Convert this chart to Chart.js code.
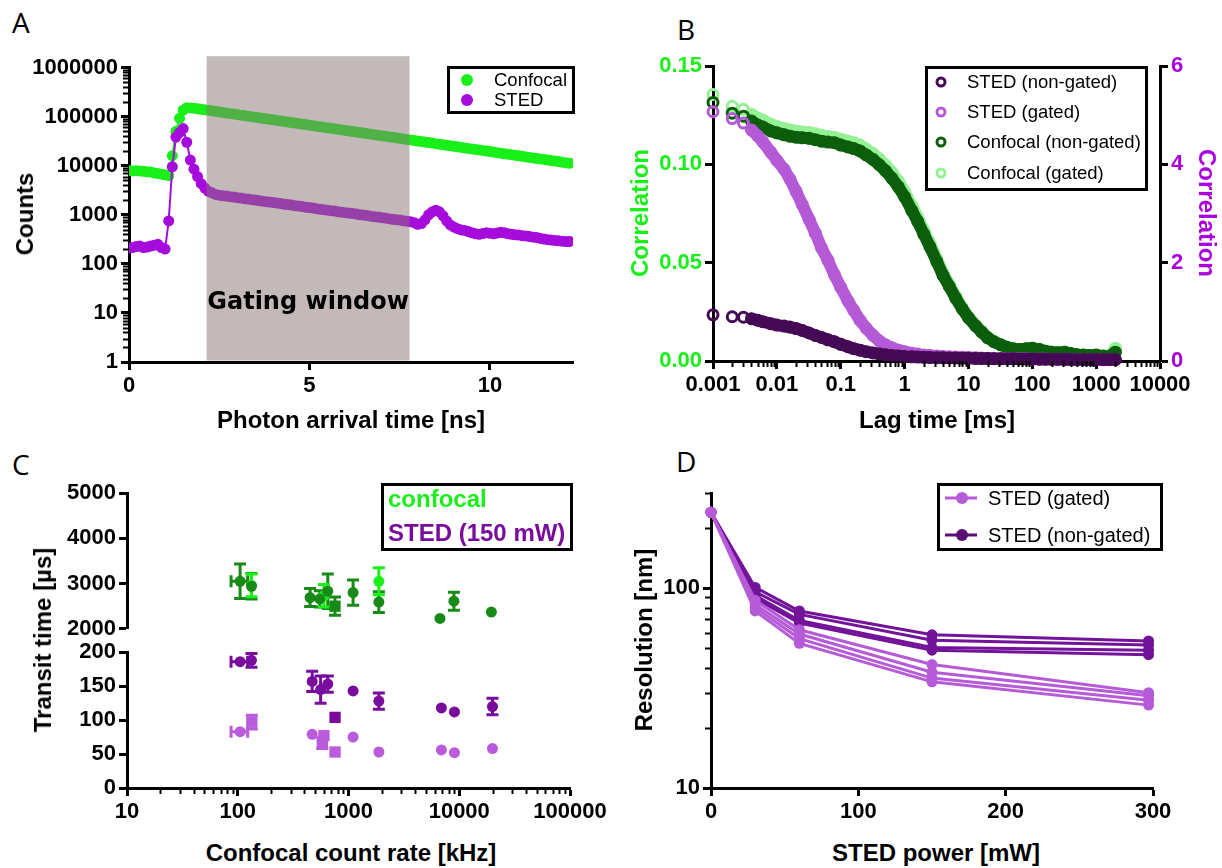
<!DOCTYPE html>
<html>
<head>
<meta charset="utf-8">
<title>Gated STED-FCS</title>
<script src="https://cdn.jsdelivr.net/npm/chart.js@4.4.1/dist/chart.umd.min.js"></script>
<style>
  body { margin:0; width:1222px; height:868px; background:#fff; position:relative; overflow:hidden;
         font-family:"Liberation Sans", Arial, sans-serif; color:#000; }
  canvas { position:absolute; }
  .letter { position:absolute; font-family:"Open Sans", sans-serif; font-size:28px; line-height:28px; }
  .atitle { position:absolute; font-weight:bold; font-size:24px; line-height:24px; white-space:nowrap;
            transform:translate(-50%,-50%); }
  .rot-l { transform:translate(-50%,-50%) rotate(-90deg); }
  .rot-r { transform:translate(-50%,-50%) rotate(90deg); }
  .lbox { position:absolute; border:3px solid #000; box-sizing:border-box; }
  .ltxt { position:absolute; white-space:nowrap; line-height:1; transform:translateY(-50%); }
  .dot { position:absolute; border-radius:50%; transform:translate(-50%,-50%); box-sizing:border-box; }
  .lline { position:absolute; height:3px; transform:translateY(-50%); }
</style>
</head>
<body>

<div class="letter" style="left:12px;top:8px">A</div>
<div class="letter" style="left:677px;top:15px">B</div>
<div class="letter" style="left:12px;top:450px">C</div>
<div class="letter" style="left:676px;top:447px">D</div>

<canvas id="chartA" width="600" height="372" style="left:0;top:40px"></canvas>
<canvas id="chartB" width="622" height="372" style="left:600px;top:40px"></canvas>
<canvas id="chartCTop" width="620" height="175" style="left:0;top:470px"></canvas>
<canvas id="chartCBottom" width="620" height="194" style="left:0;top:636px"></canvas>
<canvas id="chartD" width="622" height="360" style="left:600px;top:470px"></canvas>

<!-- axis titles -->
<div class="atitle rot-l" style="left:25px;top:214px">Counts</div>
<div class="atitle" style="left:351px;top:420px">Photon arrival time [ns]</div>
<div class="atitle rot-l" style="left:640px;top:213px;color:#19ef19">Correlation</div>
<div class="atitle rot-r" style="left:1207px;top:213px;color:#aa00dd">Correlation</div>
<div class="atitle" style="left:937px;top:420px">Lag time [ms]</div>
<div class="atitle rot-l" style="left:43px;top:640px">Transit time [µs]</div>
<div class="atitle" style="left:351px;top:853px">Confocal count rate [kHz]</div>
<div class="atitle rot-l" style="left:644px;top:640px">Resolution [nm]</div>
<div class="atitle" style="left:936px;top:853px">STED power [mW]</div>

<!-- legend A -->
<div class="lbox" style="left:447px;top:66px;width:128px;height:48px"></div>
<div class="dot" style="left:467px;top:80px;width:12px;height:12px;background:#19ef19"></div>
<div class="ltxt" style="left:494px;top:80px;font-size:18.5px">Confocal</div>
<div class="dot" style="left:467px;top:100px;width:12px;height:12px;background:#a50cdc"></div>
<div class="ltxt" style="left:494px;top:100px;font-size:18.5px">STED</div>

<!-- legend B -->
<div class="lbox" style="left:925px;top:66px;width:223px;height:125px"></div>
<div class="dot" style="left:941px;top:82px;width:11px;height:11px;border:3px solid #450a55"></div>
<div class="ltxt" style="left:967px;top:82px;font-size:18.5px">STED (non-gated)</div>
<div class="dot" style="left:941px;top:112px;width:11px;height:11px;border:3px solid #b55ad6"></div>
<div class="ltxt" style="left:967px;top:112px;font-size:18.5px">STED (gated)</div>
<div class="dot" style="left:941px;top:142px;width:11px;height:11px;border:3px solid #0c5e0c"></div>
<div class="ltxt" style="left:967px;top:142px;font-size:18.5px">Confocal (non-gated)</div>
<div class="dot" style="left:941px;top:173px;width:11px;height:11px;border:3px solid #94f294"></div>
<div class="ltxt" style="left:967px;top:173px;font-size:18.5px">Confocal (gated)</div>

<!-- legend C -->
<div class="lbox" style="left:381px;top:483px;width:192px;height:68px"></div>
<div class="ltxt" style="left:388px;top:499px;font-size:24px;font-weight:bold;color:#19ef19">confocal</div>
<div class="ltxt" style="left:388px;top:533px;font-size:24px;font-weight:bold;color:#790c9c">STED (150 mW)</div>

<!-- legend D -->
<div class="lbox" style="left:937px;top:483px;width:226px;height:68px"></div>
<div class="lline" style="left:945px;top:498px;width:32px;background:#b65bd8"></div>
<div class="dot" style="left:962px;top:498px;width:12px;height:12px;background:#b65bd8"></div>
<div class="ltxt" style="left:988px;top:498px;font-size:20px">STED (gated)</div>
<div class="lline" style="left:945px;top:535px;width:32px;background:#5a0d75"></div>
<div class="dot" style="left:962px;top:535px;width:12px;height:12px;background:#5a0d75"></div>
<div class="ltxt" style="left:988px;top:535px;font-size:20px">STED (non-gated)</div>

<script>
// ---- panel A: photon arrival histogram ----
const arrivalNs = [0,0.1,0.2,0.3,0.4,0.5,0.6,0.7,0.8,0.9,1,1.1,1.2,1.3,1.4,1.5,1.6,1.7,1.8,1.9,
  2,2.1,2.2,2.3,2.4,2.5,2.6,2.7,2.8,2.9,3,3.1,3.2,3.3,3.4,3.5,3.6,3.7,3.8,3.9,
  4,4.1,4.2,4.3,4.4,4.5,4.6,4.7,4.8,4.9,5,5.1,5.2,5.3,5.4,5.5,5.6,5.7,5.8,5.9,
  6,6.1,6.2,6.3,6.4,6.5,6.6,6.7,6.8,6.9,7,7.1,7.2,7.3,7.4,7.5,7.6,7.7,7.8,7.9,
  8,8.1,8.2,8.3,8.4,8.5,8.6,8.7,8.8,8.9,9,9.1,9.2,9.3,9.4,9.5,9.6,9.7,9.8,9.9,
  10,10.1,10.2,10.3,10.4,10.5,10.6,10.7,10.8,10.9,11,11.1,11.2,11.3,11.4,11.5,11.6,11.7,11.8,11.9,
  12,12.1,12.2];
const confocalCounts = [8000,7800,7900,7800,7700,7500,7400,7100,6900,6700,6500,6300,16000,50000,92000,135000,152000,150000,148000,144000,
  141000,137000,134000,131000,128000,124000,121000,118000,115000,113000,
  110000,107000,105000,102000,99500,97000,94700,92300,90100,87900,
  85700,83600,81600,79600,77600,75700,73900,72100,70300,68600,
  66900,65300,63700,62100,60600,59100,57600,56200,54900,53500,
  52200,50900,49700,48500,47300,46100,45000,43900,42800,41800,
  40700,39700,38800,37800,36900,36000,35100,34300,33400,32600,
  31800,31000,30300,29500,28800,28100,27400,26700,26100,25400,
  24800,24200,23600,23000,22500,21900,21400,20900,20400,19900,
  19400,18900,18400,18000,17500,17100,16700,16300,15900,15500,
  15100,14700,14400,14000,13700,13400,13000,12700,12400,12100,
  11800,11500,11200];
const stedCounts = [210,215,225,230,215,220,230,240,250,215,200,750,9500,38000,47000,57000,30000,13000,8500,6000,
  4300,3500,3000,2800,2600,2500,2450,2400,2340,2290,
  2230,2190,2130,2090,2030,1990,1950,1890,1850,1810,
  1770,1730,1690,1640,1610,1580,1530,1500,1470,1420,
  1400,1370,1330,1290,1270,1240,1210,1190,1150,1130,
  1100,1080,1060,1030,1000,985,960,935,915,900,
  870,855,830,810,795,780,755,740,720,690,
  640,660,790,1000,1150,1230,1150,950,750,620,
  560,520,490,480,455,430,410,400,415,430,
  420,410,425,440,430,410,400,390,385,375,
  370,360,350,345,330,320,310,305,300,295,
  290,285,285];
const countTicks = [1,10,100,1000,10000,100000,1000000];
const countTickLabels = ['1','10','100','1000','10000','100000','1000000'];
const arrivalTicks = [0,5,10];
const arrivalTickLabels = ['0','5','10'];
const gateStartNs = 2.15, gateEndNs = 7.77, gateTopCounts = 1700000, gateLabelCounts = 16;

// ---- panel B: correlation curves ----
const lagMs = [0.001,0.002,0.003,0.004,0.005,0.006,0.008,
  0.01,0.013,0.016,0.02,0.025,0.032,0.04,0.05,0.063,0.08,
  0.1,0.13,0.16,0.2,0.25,0.32,0.4,0.5,0.63,0.8,
  1,1.3,1.6,2,2.5,3.2,4,5,6.3,8,
  10,13,16,20,25,32,40,50,63,80,
  100,130,160,200,250,320,400,500,630,800,
  1000,1300,1600,2000];
const stedNonGatedG = [0.94,0.90,0.89,0.86,0.83,0.80,0.76,
  0.73,0.71,0.69,0.66,0.62,0.57,0.52,0.48,0.43,0.39,
  0.34,0.29,0.25,0.22,0.19,0.165,0.145,0.125,0.11,0.10,
  0.09,0.085,0.08,0.075,0.07,0.068,0.065,0.062,0.06,0.058,
  0.055,0.053,0.05,0.05,0.048,0.046,0.045,0.044,0.042,0.04,
  0.04,0.038,0.037,0.036,0.035,0.034,0.033,0.032,0.03,0.03,
  0.03,0.028,0.028,0.028];
const stedGatedG = [5.07,4.93,4.84,4.70,4.58,4.46,4.25,
  4.08,3.90,3.70,3.45,3.18,2.88,2.60,2.30,2.05,1.75,
  1.50,1.22,1.03,0.83,0.67,0.52,0.41,0.33,0.27,0.22,
  0.19,0.16,0.14,0.12,0.11,0.10,0.09,0.085,0.08,0.075,
  0.07,0.065,0.06,0.058,0.055,0.05,0.05,0.048,0.045,0.045,
  0.043,0.04,0.04,0.038,0.035,0.035,0.033,0.03,0.03,0.028,
  0.028,0.025,0.025,0.025];
const confocalNonGatedG = [0.1315,0.126,0.1245,0.122,0.120,0.119,0.117,
  0.116,0.115,0.1143,0.1138,0.1135,0.1132,0.1125,0.1118,0.1113,0.111,
  0.1098,0.1088,0.108,0.1068,0.1048,0.1025,0.0998,0.0968,0.093,0.0885,
  0.0835,0.0765,0.071,0.0645,0.058,0.0505,0.0435,0.038,0.032,0.0265,
  0.022,0.0178,0.0148,0.0118,0.0098,0.0082,0.007,0.0062,0.0058,0.0062,
  0.0065,0.0058,0.005,0.0045,0.0042,0.0045,0.0038,0.0032,0.003,0.0028,
  0.003,0.0025,0.0022,0.0045];
const confocalGatedG = [0.1355,0.1295,0.128,0.1255,0.1235,0.1225,0.1205,
  0.1192,0.1182,0.1175,0.117,0.1165,0.1162,0.1155,0.1148,0.1142,0.1138,
  0.1128,0.1118,0.111,0.1098,0.1078,0.1055,0.1028,0.0998,0.096,0.0915,
  0.0862,0.079,0.0733,0.0665,0.0598,0.052,0.0448,0.039,0.033,0.0272,
  0.0225,0.0182,0.0151,0.012,0.01,0.0083,0.0071,0.0063,0.0059,0.0063,
  0.0066,0.0059,0.0051,0.0046,0.0043,0.0046,0.0039,0.0033,0.0031,0.0029,
  0.0031,0.0026,0.0023,0.0065];
const lagTicks = [0.001,0.01,0.1,1,10,100,1000,10000];
const lagTickLabels = ['0.001','0.01','0.1','1','10','100','1000','10000'];
const corrLeftTicks = [0,0.05,0.1,0.15];
const corrLeftLabels = ['0.00','0.05','0.10','0.15'];
const corrRightTicks = [0,2,4,6];
const corrRightLabels = ['0','2','4','6'];

// ---- panel C: transit times vs count rate ----
const rateConfocal = [105,133,450,550,650,1100,1880,6700,8950,19500];
const transitConfocal = [3050,2940,2690,2660,2830,2800,2590,2230,2610,2370];
const transitConfocalErr = [380,280,200,180,380,280,230,0,200,0];
const rateConfocalErr = [18,0,0,0,0,0,0,0,0,0];
const rateConfocalSq = [755];
const transitConfocalSq = [2500];
const transitConfocalSqErr = [200];
const rateConfocalGated = [133,600,1880];
const transitConfocalGated = [2960,2730,3050];
const transitConfocalGatedErr = [250,250,300];
const rateSted = [105,133,470,560,650,1100,1880,6900,9050,19950];
const transitStedNonGated = [186,188,157,145,153,143,128,118,112,120];
const transitStedNonGatedErr = [0,10,15,20,12,0,12,0,0,12];
const rateStedErr = [18,0,0,0,0,0,0,0,0,0];
const rateStedSq = [756];
const transitStedNonGatedSq = [104];
const rateStedGated = [105,470,1100,1880,6900,9050,19950];
const transitStedGated = [83,79,75,53,56,52,58];
const rateStedGatedErr = [18,0,0,0,0,0,0];
const rateStedGatedSq = [134,600,580,756];
const transitStedGatedSq = [97,77,66,53];
const transitStedGatedSqErr = [10,0,8,0];
const rateTicks = [10,100,1000,10000,100000];
const rateTickLabels = ['10','100','1000','10000','100000'];
const transitHighTicks = [2000,3000,4000,5000];
const transitHighLabels = ['2000','3000','4000','5000'];
const transitLowTicks = [0,50,100,150,200];
const transitLowLabels = ['0','50','100','150','200'];

// ---- panel D: resolution vs STED power ----
const powerMw = [0,30,60,150,297];
const gatedRes = [
  [240,87,62,41.5,30],
  [240,83,59,38,29],
  [240,80,56,35.5,27.5],
  [240,77,53,34,26]
];
const nonGatedRes = [
  [240,101,77,58.5,54.5],
  [240,96,74,55,52],
  [240,92,69,50.5,49],
  [240,89,67,49,46.5]
];
const powerTicks = [0,100,200,300];
const powerTickLabels = ['0','100','200','300'];
const resTicks = [10,100];
const resTickLabels = ['10','100'];

// ---- styling ----
const FONT = '"Liberation Sans", Arial, sans-serif';
Chart.defaults.font.family = FONT;
const GREEN = '#19ef19', PURPLE = '#a50cdc';

function axis(o) {
  const shown = o.display === undefined ? true : o.display;
  return {
    type: o.type || 'linear',
    position: o.position,
    display: shown,
    min: o.min, max: o.max,
    border: {color: '#000', width: 3},
    grid: {drawOnChartArea: false, tickLength: 8, tickWidth: 3, tickColor: '#000'},
    afterBuildTicks: s => { s.ticks = o.ticks.map(v => ({value: v})); },
    afterFit: s => {
      if (!shown) return;
      if (o.width !== undefined) s.width = o.width;
      if (o.height !== undefined) s.height = o.height;
    },
    ticks: {
      color: o.color || '#000', padding: 3, autoSkip: false, maxRotation: 0, minRotation: 0,
      font: {family: FONT, size: 22, weight: 'bold'},
      callback: (v, i) => o.labels[i]
    }
  };
}

function logMinors(fromExp, toExp) {
  const out = [];
  for (let e = fromExp; e < toExp; e++) for (let k = 2; k < 10; k++) out.push(k * Math.pow(10, e));
  return out;
}

const minorTickPlugin = {
  id: 'minorTicks',
  afterDraw(chart, args, opts) {
    const ctx = chart.ctx;
    ctx.save();
    ctx.strokeStyle = '#000';
    ctx.lineWidth = 2;
    (opts.marks || []).forEach(m => {
      const sc = chart.scales[m.axis];
      m.values.forEach(v => {
        const p = Math.round(sc.getPixelForValue(v)) + 0.5;
        ctx.beginPath();
        if (sc.isHorizontal()) {
          ctx.moveTo(p, chart.chartArea.bottom);
          ctx.lineTo(p, chart.chartArea.bottom + 6);
        } else {
          ctx.moveTo(chart.chartArea.left, p);
          ctx.lineTo(chart.chartArea.left - 6, p);
        }
        ctx.stroke();
      });
    });
    ctx.restore();
  }
};

const gatePlugin = {
  id: 'gate',
  afterDatasetsDraw(chart) {
    const {ctx, scales: {x, y}} = chart;
    const x0 = x.getPixelForValue(gateStartNs), x1 = x.getPixelForValue(gateEndNs);
    const y0 = y.getPixelForValue(gateTopCounts), y1 = y.getPixelForValue(1) - 1.5;
    ctx.save();
    ctx.fillStyle = 'rgba(136,115,115,0.5)';
    ctx.fillRect(x0, y0, x1 - x0, y1 - y0);
    ctx.fillStyle = '#000';
    ctx.font = 'bold 24px "DejaVu Sans", Verdana, sans-serif';
    ctx.textAlign = 'center';
    ctx.textBaseline = 'middle';
    ctx.fillText('Gating window', (x0 + x1) / 2, y.getPixelForValue(gateLabelCounts));
    ctx.restore();
  }
};

const errorBarPlugin = {
  id: 'errorBars',
  beforeDatasetsDraw(chart) {
    const {ctx, scales: {x, y}} = chart;
    chart.data.datasets.forEach(ds => {
      ctx.save();
      ctx.strokeStyle = ds.borderColor;
      ctx.lineWidth = 3;
      ds.data.forEach((p, i) => {
        const px = x.getPixelForValue(p.x), py = y.getPixelForValue(p.y);
        const ey = ds.errY ? ds.errY[i] : 0;
        const ex = ds.errX ? ds.errX[i] : 0;
        ctx.beginPath();
        if (ey) {
          const t = y.getPixelForValue(p.y + ey), b = y.getPixelForValue(p.y - ey);
          ctx.moveTo(px, t); ctx.lineTo(px, b);
          ctx.moveTo(px - 6, t); ctx.lineTo(px + 6, t);
          ctx.moveTo(px - 6, b); ctx.lineTo(px + 6, b);
        }
        if (ex) {
          const l = x.getPixelForValue(p.x - ex), r = x.getPixelForValue(p.x + ex);
          ctx.moveTo(l, py); ctx.lineTo(r, py);
          ctx.moveTo(l, py - 6); ctx.lineTo(l, py + 6);
          ctx.moveTo(r, py - 6); ctx.lineTo(r, py + 6);
        }
        ctx.stroke();
      });
      ctx.restore();
    });
  }
};

const baseOpts = {
  responsive: false, animation: false, devicePixelRatio: 1, events: []
};
const pts = (xs, ys) => xs.map((v, i) => ({x: v, y: ys[i]}));

// ---- A ----
new Chart(document.getElementById('chartA'), {
  type: 'line',
  data: {
    datasets: [
      {label: 'Confocal', order: 1, data: pts(arrivalNs, confocalCounts), borderColor: GREEN, backgroundColor: GREEN,
       borderWidth: 2, pointRadius: 5.5, pointBorderWidth: 0, pointBackgroundColor: GREEN},
      {label: 'STED', order: 0, data: pts(arrivalNs, stedCounts), borderColor: PURPLE, backgroundColor: PURPLE,
       borderWidth: 2, pointRadius: 5.5, pointBorderWidth: 0, pointBackgroundColor: PURPLE}
    ]
  },
  options: {
    ...baseOpts,
    layout: {padding: {left: 0, top: 27.5, right: 27, bottom: 0}},
    plugins: {legend: {display: false}, tooltip: {enabled: false},
      minorTicks: {marks: [{axis: 'y', values: logMinors(0, 6)}]}},
    scales: {
      x: axis({min: 0, max: 12.3, ticks: arrivalTicks, labels: arrivalTickLabels, height: 50}),
      y: axis({type: 'logarithmic', min: 1, max: 1000000, ticks: countTicks, labels: countTickLabels, width: 129})
    }
  },
  plugins: [minorTickPlugin, gatePlugin]
});

// ---- B ----
function corrSet(label, values, color, axisId) {
  return {
    label, data: pts(lagMs, values), yAxisID: axisId,
    borderColor: color, backgroundColor: color, borderWidth: 12,
    borderCapStyle: 'round', borderJoinStyle: 'round',
    pointRadius: 5, pointBorderWidth: 3, pointBorderColor: color, pointBackgroundColor: 'rgba(0,0,0,0)',
    segment: {borderColor: c => c.p0DataIndex < 3 ? 'rgba(0,0,0,0)' : color},
    clip: false
  };
}
new Chart(document.getElementById('chartB'), {
  type: 'line',
  data: {
    datasets: [
      corrSet('STED (non-gated)', stedNonGatedG, '#450a55', 'y2'),
      corrSet('STED (gated)', stedGatedG, '#b55ad6', 'y2'),
      corrSet('Confocal (non-gated)', confocalNonGatedG, '#0c5e0c', 'y'),
      corrSet('Confocal (gated)', confocalGatedG, '#94f294', 'y')
    ]
  },
  options: {
    ...baseOpts,
    layout: {padding: {left: 0, top: 26, right: 0, bottom: 0}},
    plugins: {legend: {display: false}, tooltip: {enabled: false},
      minorTicks: {marks: [{axis: 'x', values: logMinors(-3, 4)}]}},
    scales: {
      x: axis({type: 'logarithmic', min: 0.001, max: 10000, ticks: lagTicks, labels: lagTickLabels, height: 51}),
      y: axis({position: 'left', min: 0, max: 0.15, ticks: corrLeftTicks, labels: corrLeftLabels, width: 113, color: GREEN}),
      y2: axis({position: 'right', min: 0, max: 6, ticks: corrRightTicks, labels: corrRightLabels, width: 62, color: '#aa00dd'})
    }
  },
  plugins: [minorTickPlugin]
});

// ---- C ----
function scatterSet(label, xs, ys, color, style, errY, errX) {
  return {
    label, data: pts(xs, ys), borderColor: color, backgroundColor: color,
    pointRadius: style === 'rect' ? 8 : 5.5, pointBorderWidth: 0, pointBackgroundColor: color, pointStyle: style,
    showLine: false, errY, errX, clip: false
  };
}
const cOpts = (top, bottom, yAxis, xShow) => ({
  ...baseOpts,
  layout: {padding: {left: 0, top, right: 50, bottom}},
  plugins: {legend: {display: false}, tooltip: {enabled: false},
    minorTicks: {marks: xShow ? [{axis: 'x', values: logMinors(1, 5)}] : []}},
  scales: {
    x: axis({type: 'logarithmic', min: 10, max: 100000, ticks: rateTicks, labels: rateTickLabels,
             height: 42, display: xShow}),
    y: yAxis
  }
});
new Chart(document.getElementById('chartCTop'), {
  type: 'scatter',
  data: {
    datasets: [
      scatterSet('confocal', rateConfocal, transitConfocal, '#178a17', 'circle', transitConfocalErr, rateConfocalErr),
      scatterSet('confocal sq', rateConfocalSq, transitConfocalSq, '#178a17', 'rect', transitConfocalSqErr),
      scatterSet('confocal gated', rateConfocalGated, transitConfocalGated, GREEN, 'circle', transitConfocalGatedErr)
    ]
  },
  options: cOpts(23, 16, axis({min: 2000, max: 5000, ticks: transitHighTicks, labels: transitHighLabels, width: 127}), false),
  plugins: [errorBarPlugin, minorTickPlugin]
});
new Chart(document.getElementById('chartCBottom'), {
  type: 'scatter',
  data: {
    datasets: [
      scatterSet('STED non-gated', rateSted, transitStedNonGated, '#790c9c', 'circle', transitStedNonGatedErr, rateStedErr),
      scatterSet('STED non-gated sq', rateStedSq, transitStedNonGatedSq, '#790c9c', 'rect'),
      scatterSet('STED gated', rateStedGated, transitStedGated, '#b95bdb', 'circle', null, rateStedGatedErr),
      scatterSet('STED gated sq', rateStedGatedSq, transitStedGatedSq, '#b95bdb', 'rect', transitStedGatedSqErr)
    ]
  },
  options: cOpts(16, 0, axis({min: 0, max: 200, ticks: transitLowTicks, labels: transitLowLabels, width: 127}), true),
  plugins: [errorBarPlugin, minorTickPlugin]
});

// ---- D ----
function resSet(label, values, color) {
  return {
    label, data: pts(powerMw, values), borderColor: color, backgroundColor: color, borderWidth: 3,
    pointRadius: 5.5, pointBorderWidth: 0, pointBackgroundColor: color, clip: false
  };
}
new Chart(document.getElementById('chartD'), {
  type: 'line',
  data: {
    datasets: [
      ...gatedRes.map((r, i) => resSet('STED (gated) ' + (i + 1), r, '#b65bd8')),
      ...nonGatedRes.map((r, i) => resSet('STED (non-gated) ' + (i + 1), r, '#72139a'))
    ]
  },
  options: {
    ...baseOpts,
    layout: {padding: {left: 0, top: 23, right: 69, bottom: 0}},
    plugins: {legend: {display: false}, tooltip: {enabled: false},
      minorTicks: {marks: [{axis: 'y', values: [20,30,40,50,60,70,80,90,200,300]}]}},
    scales: {
      x: axis({min: 0, max: 300, ticks: powerTicks, labels: powerTickLabels, height: 42}),
      y: axis({type: 'logarithmic', min: 10, max: 300, ticks: resTicks, labels: resTickLabels, width: 111})
    }
  },
  plugins: [minorTickPlugin]
});
</script>
</body>
</html>
